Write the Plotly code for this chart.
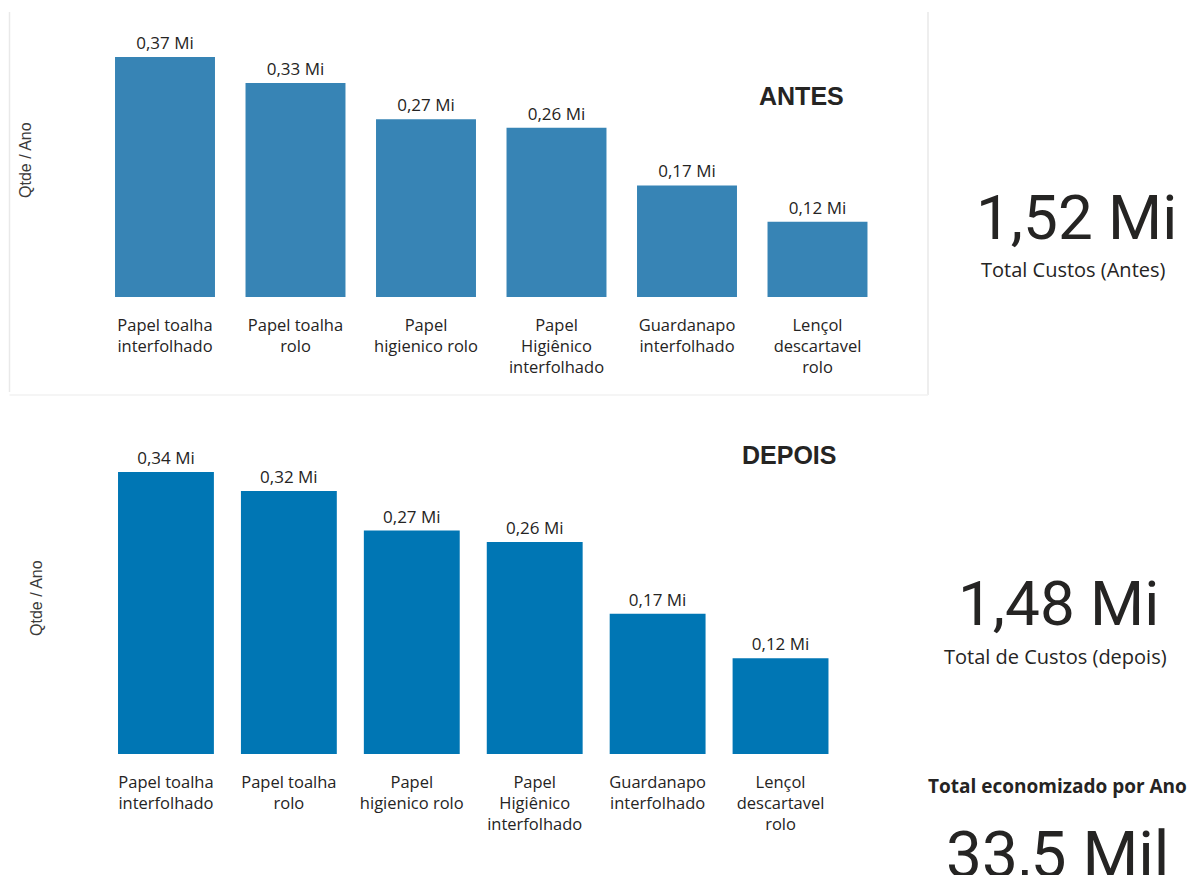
import plotly.graph_objects as go

# ---------------- data ----------------
categorias = [
    "Papel toalha<br>interfolhado",
    "Papel toalha<br>rolo",
    "Papel<br>higienico rolo",
    "Papel<br>Higiênico<br>interfolhado",
    "Guardanapo<br>interfolhado",
    "Lençol<br>descartavel<br>rolo",
]
antes = [0.370, 0.330, 0.274, 0.261, 0.172, 0.116]   # Mi
depois = [0.342, 0.319, 0.271, 0.257, 0.170, 0.116]  # Mi

total_antes_txt = "1,52 Mi"
total_depois_txt = "1,48 Mi"
economia_txt = "33,5 Mil"

# ---------------- style ----------------
W, H = 1190, 875
FONT = "Segoe UI, Open Sans, Noto Sans, sans-serif"
KPI_FONT = "Roboto, DejaVu Sans, sans-serif"
TXT = "#252423"
COR_ANTES = "#3784B5"
COR_DEPOIS = "#0076B4"


def px_x(v):
    return v / W


def px_y(v):
    return 1 - v / H


fig = go.Figure()

fig.add_trace(go.Bar(
    x=categorias, y=antes, marker=dict(color=COR_ANTES, line=dict(width=0)),
    texttemplate="%{y:.2f} Mi", textposition="outside", cliponaxis=False,
    textfont=dict(family=FONT, size=17, color=TXT),
    xaxis="x", yaxis="y", hoverinfo="skip", showlegend=False,
))
fig.add_trace(go.Bar(
    x=categorias, y=depois, marker=dict(color=COR_DEPOIS, line=dict(width=0)),
    texttemplate="%{y:.2f} Mi", textposition="outside", cliponaxis=False,
    textfont=dict(family=FONT, size=17, color=TXT),
    xaxis="x2", yaxis="y2", hoverinfo="skip", showlegend=False,
))

# chart geometry (pixels)
top_base, top_top = 297, 40
top_scale = (297 - 57) / 0.370
bot_base, bot_top = 754, 420
bot_scale = (754 - 472) / 0.342

xa_common = dict(showgrid=False, zeroline=False, showline=False, ticks="",
                 tickfont=dict(family=FONT, size=16.5, color=TXT),
                 ticklabelstandoff=16, fixedrange=True)
ya_common = dict(showgrid=False, zeroline=False, showline=False,
                 showticklabels=False, fixedrange=True)

fig.update_layout(
    width=W, height=H,
    margin=dict(l=0, r=0, t=0, b=0),
    paper_bgcolor="white", plot_bgcolor="white",
    separators=",.",
    xaxis=dict(domain=[px_x(99.75), px_x(882.75)], anchor="y", **xa_common),
    yaxis=dict(domain=[px_y(top_base), px_y(top_top)],
               range=[0, (top_base - top_top) / top_scale], **ya_common),
    xaxis2=dict(domain=[px_x(104.5), px_x(842)], anchor="y2", **xa_common),
    yaxis2=dict(domain=[px_y(bot_base), px_y(bot_top)],
                range=[0, (bot_base - bot_top) / bot_scale], **ya_common),
)
fig.update_traces(width=0.766, selector=dict(xaxis="x"))
fig.update_traces(width=0.78, selector=dict(xaxis="x2"))


def label(text, x, y, size, family=FONT, color=TXT, angle=0, yanchor="middle"):
    return dict(text=text, x=px_x(x), y=px_y(y), xref="paper", yref="paper",
                xanchor="center", yanchor=yanchor, textangle=angle, showarrow=False,
                font=dict(family=family, size=size, color=color))


ann = [
    label("Qtde / Ano", 26, 160, 16, family="Liberation Sans, Arial", color="#3b3a39", angle=-90),
    label("Qtde / Ano", 36, 598, 16, family="Liberation Sans, Arial", color="#3b3a39", angle=-90),
    label("<b>ANTES</b>", 801.5, 96, 25, family="Liberation Sans, Arial"),
    label("<b>DEPOIS</b>", 788.5, 455, 25, family="Liberation Sans, Arial"),
    label(total_antes_txt, 1076, 217, 62, family=KPI_FONT),
    label("Total Custos (Antes)", 1073, 270, 20),
    label(total_depois_txt, 1058, 603, 62, family=KPI_FONT),
    label("Total de Custos (depois)", 1055, 656, 20),
    label("<b>Total economizado por Ano</b>", 1057, 786, 19),
    label(economia_txt, 1057, 855, 64, family=KPI_FONT),
]
fig.update_layout(annotations=ann)

# faint card border around the top chart
border = "#e9e9e9"
shapes = [
    dict(type="line", xref="paper", yref="paper", x0=px_x(9.5), x1=px_x(9.5), y0=px_y(12), y1=px_y(392),
         line=dict(color=border, width=1.5)),
    dict(type="line", xref="paper", yref="paper", x0=px_x(928), x1=px_x(928), y0=px_y(12), y1=px_y(395),
         line=dict(color=border, width=1.5)),
    dict(type="line", xref="paper", yref="paper", x0=px_x(9.5), x1=px_x(928), y0=px_y(395), y1=px_y(395),
         line=dict(color="#f2f2f2", width=1.5)),
]
fig.update_layout(shapes=shapes)

fig.write_html("out.html", config={"displayModeBar": False},
               post_script="document.body.style.margin='0';")
